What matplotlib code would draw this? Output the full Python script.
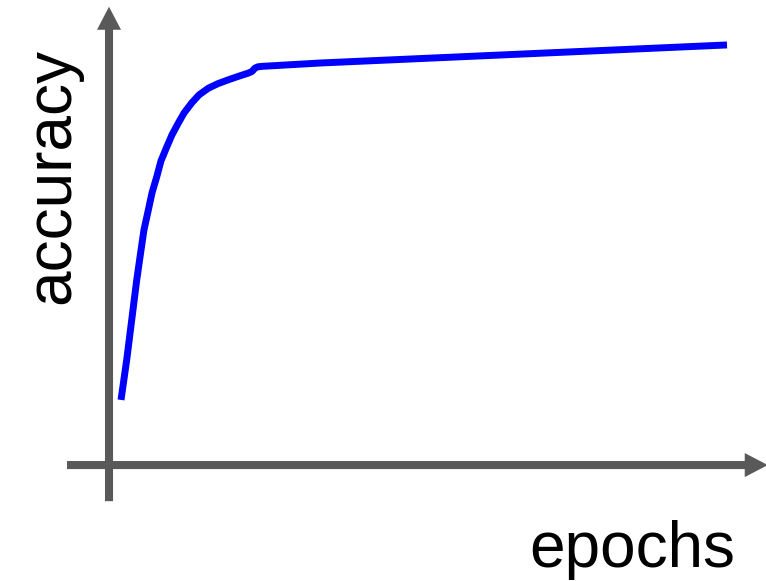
import matplotlib.pyplot as plt
from matplotlib.patches import FancyArrowPatch

plt.rcParams['font.family'] = ['Liberation Sans', 'DejaVu Sans']

# learning curve
epochs = [1.94, 2.86, 3.67, 4.48, 5.18, 5.66, 6.36, 6.96, 7.72, 8.41, 9.34,
          10.19, 11.21, 12.14, 13.38, 14.56, 16.07, 17.64, 19.30, 20.87,
          22.54, 23.14, 23.62, 24.11, 24.71, 34.14, 100.0]
accuracy = [0.155, 0.250, 0.345, 0.440, 0.512, 0.560, 0.607, 0.648, 0.686,
            0.724, 0.757, 0.786, 0.814, 0.838, 0.862, 0.881, 0.897, 0.908,
            0.917, 0.925, 0.933, 0.937, 0.945, 0.948, 0.949, 0.957, 1.0]

fig = plt.figure(figsize=(7.66, 5.81), dpi=100)
ax = fig.add_axes([0, 0, 1, 1])
ax.set_xlim(-17.64, 106.31)
ax.set_ylim(-0.276, 1.107)
ax.axis('off')

grey = '#595959'
# axes drawn as arrows
for start, end in [((0, -0.086), (0, 1.091)), ((-6.8, 0), (106.6, 0))]:
    ax.add_patch(FancyArrowPatch(start, end,
                                 arrowstyle='simple,head_length=1.66,head_width=1.73,tail_width=0.58',
                                 mutation_scale=10, color=grey, lw=0,
                                 shrinkA=0, shrinkB=0))

ax.plot(epochs, accuracy, color='#0000ff', lw=5, solid_capstyle='butt',
        solid_joinstyle='round')

fig.text(632 / 766, 1 - 567 / 581, 'epochs', fontsize=46, ha='center',
         va='baseline')
fig.text(69 / 766, 1 - 176 / 581, 'accuracy', fontsize=46, rotation=90,
         rotation_mode='anchor', ha='center', va='baseline')

fig.savefig('out.png')
